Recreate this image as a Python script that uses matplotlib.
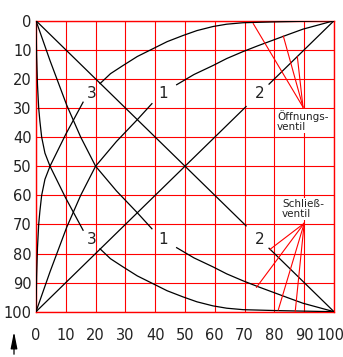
import matplotlib
matplotlib.use('Agg')
import matplotlib.pyplot as plt
import matplotlib.transforms as mtransforms
import numpy as np

# Kennlinien: Hub x in %, Durchfluss f in % (Öffnen: 100 - f, Schließen: f)
kurve1_x = [0, 4.7, 10.3, 15, 20, 27, 34, 38.9, 47.2, 53, 59.4, 64, 69.5, 74.5, 79.5, 84.5, 89.6, 95, 100]
kurve1_f = [0, 13.7, 29, 40, 50, 58.5, 66, 71.5, 78, 81.5, 84.6, 87, 89.4, 91.4, 93.3, 95.2, 97.1, 98.6, 100]

kurve2_x = [0, 70.5, 78.2, 100]
kurve2_f = [0, 70.5, 78.2, 100]

kurve3_x = [0, 0.2, 0.5, 0.9, 1.3, 1.9, 3.0, 4.7, 10, 15.8, 21.5, 25, 29.2, 34, 39.3, 44, 49.3, 54, 59.4, 64, 69.5, 80, 90, 100]
kurve3_f = [0, 12, 22, 30, 34.5, 40, 45.5, 50, 61, 72, 78.4, 81.8, 84.6, 87.7, 90.4, 92.8, 94.9, 96.6, 98.0, 98.8, 99.3, 99.6, 99.8, 100]

kurven_namen = ['1', '2', '3']
achsen_ticks = list(range(0, 101, 10))

# Lücken für die Beschriftung (x-Bereich) und Lage der Ziffern
luecken = {'1': (38.9, 47.2), '2': (70.5, 78.2), '3': (15.8, 21.5)}
ziffer_x = {'1': 42.8, '2': 75.2, '3': 18.6}

ROT = '#ff0000'


def zeichne_kurve(ax, x, y, luecke):
    # Kurve in zwei Stücken zeichnen, dazwischen Platz für die Ziffer
    x = np.array(x)
    y = np.array(y)
    links = x <= luecke[0]
    rechts = x >= luecke[1]
    ax.plot(x[links], y[links], color='black', lw=0.9, zorder=3)
    ax.plot(x[rechts], y[rechts], color='black', lw=0.9, zorder=3)


def zeichne_hinweis(ax, start, ziele):
    for zx, zy in ziele:
        ax.plot([start[0], zx], [start[1], zy], color=ROT, lw=0.8, zorder=4)


if __name__ == "__main__":
    fig = plt.figure(figsize=(3.43, 3.57), dpi=100)
    ax = fig.add_axes([36 / 343, 45.3 / 357, 298 / 343, 291 / 357])

    ax.set_xlim(0, 100)
    ax.set_ylim(100, 0)
    ax.set_xticks(achsen_ticks)
    ax.set_yticks(achsen_ticks)
    ax.tick_params(axis='both', length=0, labelsize=10.5, colors='#222222')
    ax.tick_params(axis='x', pad=11.5)
    ax.tick_params(axis='y', pad=3)
    ax.grid(True, color=ROT, lw=0.8, zorder=1)
    ax.set_axisbelow(True)
    for s in ax.spines.values():
        s.set_color(ROT)
        s.set_linewidth(1.0)

    # letzte x-Beschriftung etwas nach links, damit sie ins Bild passt
    letzte = ax.get_xticklabels()[-1]
    letzte.set_transform(letzte.get_transform() +
                         mtransforms.ScaledTranslation(-4 / 100, 0, fig.dpi_scale_trans))

    daten = {'1': (kurve1_x, kurve1_f), '2': (kurve2_x, kurve2_f), '3': (kurve3_x, kurve3_f)}
    for name in kurven_namen:
        x, f = daten[name]
        f = np.array(f)
        # Öffnungsventil
        zeichne_kurve(ax, x, 100 - f, luecken[name])
        # Schließventil
        zeichne_kurve(ax, x, f, luecken[name])
        ax.text(ziffer_x[name], 25, name, fontsize=11, ha='center', va='center', color='#222222')
        ax.text(ziffer_x[name], 75.3, name, fontsize=11, ha='center', va='center', color='#222222')

    # Hinweislinien
    zeichne_hinweis(ax, (89.6, 29.7), [(72.9, 1.0), (83, 5.3), (87.7, 12.4)])
    zeichne_hinweis(ax, (90, 69.6), [(78.5, 78.6), (74, 91.6), (81.3, 99.4), (87, 99.8)])

    box = dict(facecolor='white', edgecolor='none', pad=0.6)
    ax.text(80.9, 30.8, 'Öffnungs-\nventil', fontsize=7.5, ha='left', va='top',
            linespacing=1.0, bbox=box, zorder=5, color='#222222')
    ax.text(82.6, 61.3, 'Schließ-\nventil', fontsize=7.5, ha='left', va='top',
            linespacing=1.0, bbox=box, zorder=5, color='#222222')

    # Pfeil unten links
    fig.patches.append(matplotlib.patches.FancyArrowPatch(
        (14 / 343, 0), (14 / 343, 28 / 357), transform=fig.transFigure,
        arrowstyle='-|>,head_length=1.0,head_width=0.2', mutation_scale=10,
        color='black', lw=0.9))

    fig.savefig('out.png', dpi=100)
    plt.close(fig)
